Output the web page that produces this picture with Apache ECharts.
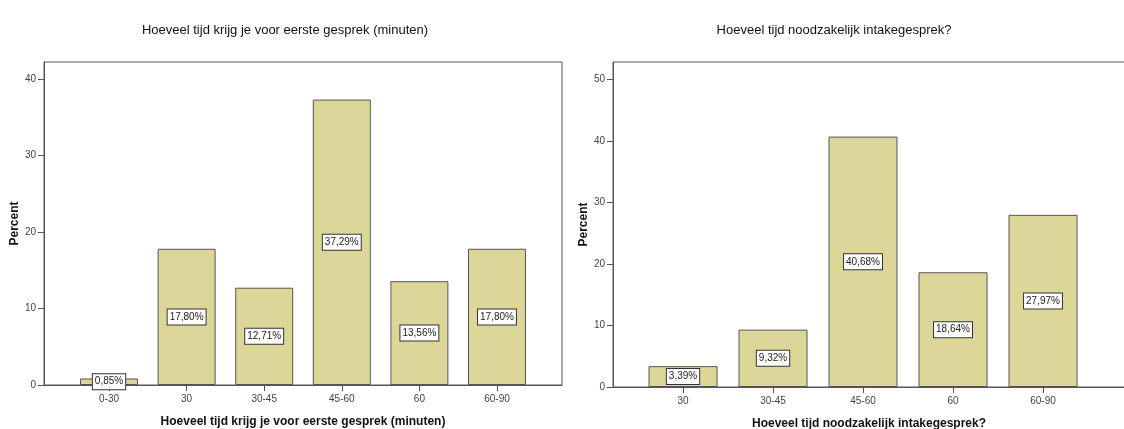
<!DOCTYPE html>
<html>
<head>
<meta charset="utf-8">
<script src="https://cdn.jsdelivr.net/npm/echarts@6/dist/echarts.min.js"></script>
<style>
  html, body { margin: 0; padding: 0; background: #fff; }
  #chart { width: 1124px; height: 429px; }
</style>
</head>
<body>
<div id="chart"></div>
<script>
// linker grafiek
const leftCategories = ['0-30', '30', '30-45', '45-60', '60', '60-90']
const leftValues = [0.85, 17.80, 12.71, 37.29, 13.56, 17.80]
const leftTicks = [0, 10, 20, 30, 40]
// rechter grafiek
const rightCategories = ['30', '30-45', '45-60', '60', '60-90']
const rightValues = [3.39, 9.32, 40.68, 18.64, 27.97]
const rightTicks = [0, 10, 20, 30, 40, 50]

const leftTitle = 'Hoeveel tijd krijg je voor eerste gesprek (minuten)'
const rightTitle = 'Hoeveel tijd noodzakelijk intakegesprek?'

const font = 'Liberation Sans, Arial, sans-serif'
const barColor = '#dcd799'
const lineColor = '#555'

const xAxis = (gridIndex, cats, min, max, name) => ({
  type: 'value',
  gridIndex,
  min,
  max,
  name,
  nameLocation: 'middle',
  nameGap: 31,
  nameTextStyle: { fontFamily: font, fontWeight: 'bold', fontSize: 12, color: '#111' },
  splitLine: { show: false },
  axisLine: { show: true, onZero: false, lineStyle: { color: lineColor } },
  axisTick: { show: true, length: 6, customValues: cats.map((c, i) => i), lineStyle: { color: lineColor } },
  axisLabel: {
    customValues: cats.map((c, i) => i),
    formatter: (v) => cats[v] ?? '',
    fontFamily: font, fontSize: 10, color: '#444', margin: 9
  }
})

const yAxis = (gridIndex, max, ticks, nameGap) => ({
  type: 'value',
  gridIndex,
  min: 0,
  max,
  interval: 10,
  name: 'Percent',
  nameLocation: 'middle',
  nameGap,
  nameTextStyle: { fontFamily: font, fontWeight: 'bold', fontSize: 12, color: '#111' },
  splitLine: { show: false },
  axisLine: { show: true, onZero: false, lineStyle: { color: lineColor } },
  axisTick: { show: true, length: 6, customValues: ticks, lineStyle: { color: lineColor } },
  axisLabel: { customValues: ticks, fontFamily: font, fontSize: 10, color: '#444', margin: 8 }
})

const barSeries = (idx, values, width) => ({
  type: 'bar',
  xAxisIndex: idx,
  yAxisIndex: idx,
  barWidth: width,
  data: values.map((v, i) => [i, v]),
  itemStyle: { color: barColor, borderColor: lineColor, borderWidth: 1 },
  label: {
    show: true,
    position: 'inside',
    formatter: (p) => p.value[1].toFixed(2).replace('.', ',') + '%',
    fontFamily: font,
    fontSize: 10,
    color: '#222',
    backgroundColor: '#fff',
    borderColor: '#333',
    borderWidth: 1,
    padding: [3, 2, 2, 2]
  }
})

const chart = echarts.init(document.getElementById('chart'))
chart.setOption({
  animation: false,
  title: [
    { text: leftTitle, left: 280, top: 19, textAlign: 'center',
      textStyle: { fontFamily: font, fontWeight: 'normal', fontSize: 13, color: '#111' } },
    { text: rightTitle, left: 829, top: 19, textAlign: 'center',
      textStyle: { fontFamily: font, fontWeight: 'normal', fontSize: 13, color: '#111' } }
  ],
  grid: [
    { left: 44, top: 62, width: 518, height: 323, outerBoundsMode: 'none',
      show: true, borderColor: lineColor, borderWidth: 1 },
    { left: 613, top: 62, width: 512, height: 325, outerBoundsMode: 'none',
      show: true, borderColor: lineColor, borderWidth: 1 }
  ],
  xAxis: [
    xAxis(0, leftCategories, -0.838, 5.838, leftTitle),
    xAxis(1, rightCategories, -0.778, 4.911, rightTitle)
  ],
  yAxis: [
    yAxis(0, 42.2, leftTicks, 22),
    yAxis(1, 52.8, rightTicks, 22)
  ],
  series: [
    barSeries(0, leftValues, 58),
    barSeries(1, rightValues, 69)
  ]
})
</script>
</body>
</html>
